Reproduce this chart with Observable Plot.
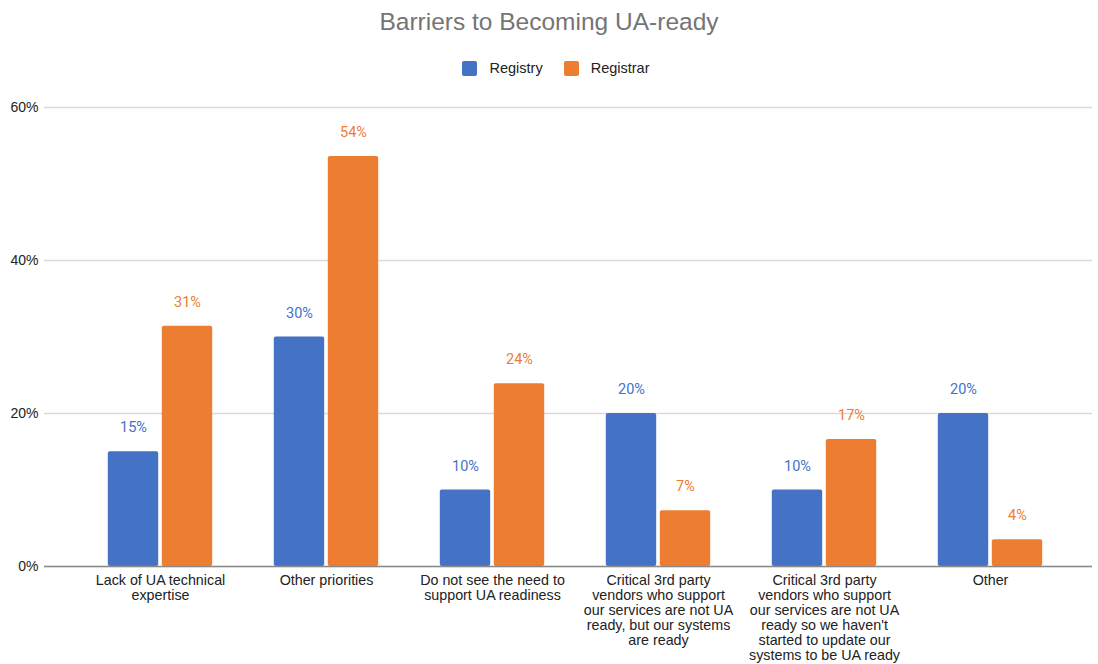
<!DOCTYPE html>
<html>
<head>
<meta charset="utf-8">
<script src="https://cdn.jsdelivr.net/npm/d3@7"></script>
<script src="https://cdn.jsdelivr.net/npm/@observablehq/plot@0.6"></script>
<style>
  html, body { margin: 0; padding: 0; background: #fff; }
  #wrap { width: 1098px; font-family: "Liberation Sans", Arial, sans-serif; }
  #title { height: 46px; line-height: 44px; text-align: center; font-size: 24.5px; color: #757575; }
  #legend { height: 44px; display: flex; justify-content: center; align-items: center; gap: 21px; font-size: 14.5px; color: #222; padding-left: 14px; box-sizing: border-box; }
  .item { display: flex; align-items: center; gap: 12px; }
  .sw { width: 15px; height: 15px; border-radius: 2px; display: inline-block; }
  svg { display: block; }
</style>
</head>
<body>
<div id="wrap">
  <div id="title">Barriers to Becoming UA-ready</div>
  <div id="legend"></div>
  <div id="chart"></div>
</div>
<script>
const categories = [
  "Lack of UA technical\nexpertise",
  "Other priorities",
  "Do not see the need to\nsupport UA readiness",
  "Critical 3rd party\nvendors who support\nour services are not UA\nready, but our systems\nare ready",
  "Critical 3rd party\nvendors who support\nour services are not UA\nready so we haven't\nstarted to update our\nsystems to be UA ready",
  "Other"
];
const seriesNames = ["Registry", "Registrar"];
const seriesColors = ["#4472c4", "#ed7d31"];
const registry = [15, 30, 10, 20, 10, 20];
const registrar = [31.4, 53.6, 23.9, 7.3, 16.6, 3.5];
const yTicks = [0, 20, 40, 60];

const regData = categories.map((c, i) => ({category: c, value: registry[i]}));
const rarData = categories.map((c, i) => ({category: c, value: registrar[i]}));

// legend
const legend = document.getElementById("legend");
seriesNames.forEach((s, i) => {
  const it = document.createElement("div");
  it.className = "item";
  it.innerHTML = `<span class="sw" style="background:${seriesColors[i]}"></span><span>${s}</span>`;
  legend.appendChild(it);
});

const fmt = v => `${Math.round(v)}%`;

const chart = Plot.plot({
  width: 1098,
  height: 574,
  marginTop: 17,
  marginBottom: 98,
  marginLeft: 44,
  marginRight: 6,
  style: {fontFamily: "'Liberation Sans', Arial, sans-serif", fontSize: "14px", color: "#222", background: "#fff"},
  x: {domain: categories, paddingInner: 0, paddingOuter: 0.145, align: 0.64, label: null},
  y: {domain: [0, 60], label: null},
  marks: [
    Plot.gridY(yTicks, {stroke: "#d9d9d9", strokeOpacity: 1, strokeWidth: 1.5}),
    Plot.axisY(yTicks, {tickSize: 0, tickPadding: 6, tickFormat: d => d + "%", fontSize: 14, fill: "#222", label: null}),
    Plot.axisX({tickSize: 0, tickPadding: 8, fontSize: 14.3, fill: "#222", lineHeight: 1.05, label: null}),
    Plot.barY(regData, {x: "category", y: "value", fill: seriesColors[0], insetLeft: 30.8, insetRight: 84.8, rx: 2}),
    Plot.barY(rarData, {x: "category", y: "value", fill: seriesColors[1], insetLeft: 84.8, insetRight: 30.8, rx: 2}),
    Plot.ruleY([0], {stroke: "#8a8a8a", strokeWidth: 1.5}),
    Plot.text(regData, {x: "category", y: "value", text: d => fmt(d.value), dx: -27, dy: -24, fill: seriesColors[0], fontSize: 14.5, fontFamily: "Roboto, sans-serif"}),
    Plot.text(rarData, {x: "category", y: "value", text: d => fmt(d.value), dx: 27, dy: -24, fill: seriesColors[1], fontSize: 14.5, fontFamily: "Roboto, sans-serif"})
  ]
});
document.getElementById("chart").appendChild(chart);
</script>
</body>
</html>
